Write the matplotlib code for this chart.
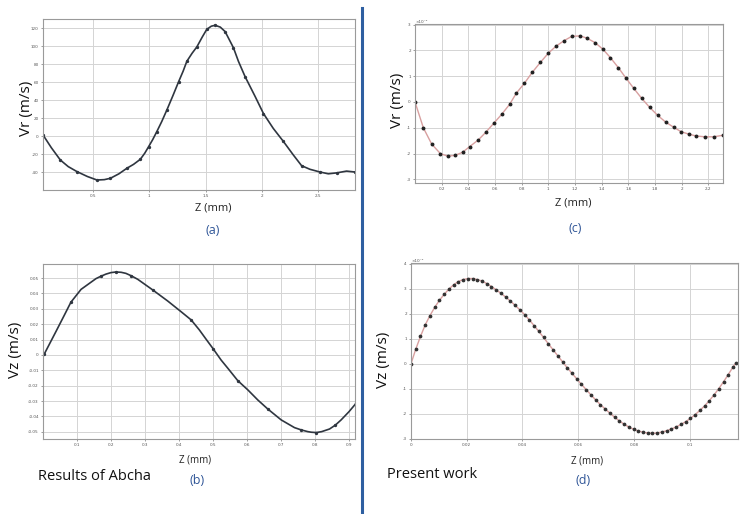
import matplotlib
matplotlib.use("Agg")
import matplotlib.pyplot as plt
from matplotlib.lines import Line2D

# ---------------- data ----------------
# (a) Vr, Results of Abcha
za = [0.057, 0.13, 0.21, 0.28, 0.358, 0.45, 0.535, 0.60, 0.654, 0.73, 0.80, 0.86, 0.92,
      0.96, 0.993, 1.03, 1.067, 1.11, 1.156, 1.21, 1.259, 1.30, 1.333, 1.38, 1.422,
      1.47, 1.51, 1.55, 1.584, 1.63, 1.673, 1.71, 1.747, 1.791, 1.85, 1.939, 2.013,
      2.10, 2.19, 2.278, 2.352, 2.426, 2.515, 2.589, 2.662, 2.751, 2.825]
vra = [1.0, -13.0, -26.7, -34.0, -39.6, -45.0, -48.9, -48.5, -47.0, -42.0, -35.9, -31.5,
       -25.9, -19.0, -12.0, -4.0, 5.0, 16.0, 29.0, 45.0, 60.0, 72.0, 83.0, 92.0, 99.0,
       110.0, 118.5, 122.0, 123.0, 121.0, 116.0, 107.0, 98.0, 83.0, 66.0, 44.0, 25.0,
       8.5, -6.0, -21.0, -33.0, -37.0, -40.0, -42.0, -41.0, -39.0, -40.0]
za_ticks = [0.5, 1, 1.5, 2, 2.5]
za_labels = ["0.5", "1", "1.5", "2", "2.5"]
vra_ticks = [-40, -20, 0, 20, 40, 60, 80, 100, 120]

# (c) Vr, present work (x1e-4)
zc = [0.0, 0.0625, 0.125, 0.19, 0.245, 0.30, 0.357, 0.41, 0.475, 0.53, 0.59, 0.65,
      0.71, 0.76, 0.82, 0.88, 0.94, 1.0, 1.06, 1.12, 1.175, 1.24, 1.29, 1.35, 1.41,
      1.465, 1.525, 1.58, 1.64, 1.70, 1.76, 1.82, 1.88, 1.94, 1.995, 2.055, 2.11,
      2.175, 2.24, 2.31]
vrc = [0.0, -1.0, -1.63, -2.0, -2.1, -2.07, -1.95, -1.73, -1.47, -1.18, -0.83, -0.48,
       -0.09, 0.34, 0.72, 1.15, 1.53, 1.89, 2.17, 2.38, 2.54, 2.56, 2.47, 2.30, 2.04,
       1.72, 1.33, 0.94, 0.53, 0.14, -0.21, -0.52, -0.78, -0.98, -1.15, -1.25, -1.32,
       -1.35, -1.35, -1.29]
zc_ticks = [0.2, 0.4, 0.6, 0.8, 1, 1.2, 1.4, 1.6, 1.8, 2, 2.2]
zc_labels = ["0.2", "0.4", "0.6", "0.8", "1", "1.2", "1.4", "1.6", "1.8", "2", "2.2"]
vrc_ticks = [-3, -2, -1, 0, 1, 2, 3]

# (b) Vz, Results of Abcha
zb = [0.004, 0.038, 0.063, 0.082, 0.112, 0.156, 0.17, 0.185, 0.20, 0.215, 0.23, 0.244,
      0.26, 0.279, 0.30, 0.323, 0.367, 0.406, 0.436, 0.46, 0.48, 0.501, 0.524, 0.544,
      0.573, 0.603, 0.632, 0.661, 0.701, 0.74, 0.76, 0.779, 0.79, 0.804, 0.82, 0.843,
      0.86, 0.877, 0.90, 0.921]
vzb = [0.0007, 0.0152, 0.026, 0.0343, 0.0427, 0.0497, 0.0512, 0.0526, 0.0536, 0.054,
       0.0538, 0.0531, 0.0515, 0.0492, 0.0459, 0.0423, 0.0351, 0.0282, 0.0228, 0.0163,
       0.0102, 0.0039, -0.0033, -0.0087, -0.0167, -0.0228, -0.0293, -0.0351, -0.0423,
       -0.0473, -0.0488, -0.0499, -0.0503, -0.0505, -0.0499, -0.0482, -0.0457,
       -0.0423, -0.0370, -0.0315]
zb_ticks = [0.1, 0.2, 0.3, 0.4, 0.5, 0.6, 0.7, 0.8, 0.9]
zb_labels = ["0.1", "0.2", "0.3", "0.4", "0.5", "0.6", "0.7", "0.8", "0.9"]
vzb_ticks = [-0.05, -0.04, -0.03, -0.02, -0.01, 0, 0.01, 0.02, 0.03, 0.04, 0.05]

# (d) Vz, present work (x1e-4)
zd = [0.0, 0.0017, 0.0034, 0.0051, 0.0068, 0.0085, 0.0102, 0.0119, 0.0136, 0.0153,
      0.0170, 0.0187, 0.0204, 0.0221, 0.0238, 0.0255, 0.0272, 0.0289, 0.0306, 0.0323,
      0.0340, 0.0357, 0.0374, 0.0391, 0.0408, 0.0425, 0.0442, 0.0459, 0.0476, 0.0493,
      0.0510, 0.0527, 0.0544, 0.0561, 0.0578, 0.0595, 0.0612, 0.0629, 0.0646, 0.0663,
      0.0680, 0.0697, 0.0714, 0.0731, 0.0748, 0.0765, 0.0782, 0.0799, 0.0816, 0.0833,
      0.0850, 0.0867, 0.0884, 0.0901, 0.0918, 0.0935, 0.0952, 0.0969, 0.0986, 0.1003,
      0.1020, 0.1037, 0.1054, 0.1071, 0.1088, 0.1105, 0.1122, 0.1139, 0.1156, 0.1166]
vzd = [0.00, 0.58, 1.09, 1.55, 1.92, 2.25, 2.53, 2.77, 2.98, 3.15,
       3.28, 3.36, 3.40, 3.40, 3.36, 3.30, 3.20, 3.08, 2.95, 2.81,
       2.66, 2.50, 2.33, 2.15, 1.96, 1.75, 1.52, 1.29, 1.05, 0.80,
       0.56, 0.32, 0.08, -0.16, -0.38, -0.60, -0.82, -1.03, -1.24, -1.44,
       -1.63, -1.80, -1.97, -2.13, -2.28, -2.41, -2.52, -2.61, -2.68, -2.73,
       -2.76, -2.77, -2.76, -2.72, -2.67, -2.60, -2.52, -2.42, -2.31, -2.18,
       -2.03, -1.86, -1.68, -1.47, -1.24, -0.99, -0.72, -0.43, -0.13, 0.03]
zd_ticks = [0, 0.02, 0.04, 0.06, 0.08, 0.1]
zd_labels = ["0", "0.02", "0.04", "0.06", "0.08", "0.1"]
vzd_ticks = [-3, -2, -1, 0, 1, 2, 3, 4]

# ---------------- figure ----------------
W, H = 741, 514
fig = plt.figure(figsize=(W / 100, H / 100), dpi=100)
fig.patch.set_facecolor("white")

FONT = ["Open Sans", "DejaVu Sans"]
BLUE = "#2f5597"


def px_axes(l, t, r, b):
    return fig.add_axes([l / W, 1 - b / H, (r - l) / W, (b - t) / H])


def style(ax, xt, xl, yt, xlim, ylim):
    ax.set_xlim(*xlim)
    ax.set_ylim(*ylim)
    ax.set_xticks(xt)
    ax.set_xticklabels(xl)
    ax.set_yticks(yt)
    ax.set_yticklabels([("%g" % v) for v in yt])
    ax.tick_params(labelsize=3, length=1.5, width=0.4, colors="#555555", pad=1.5)
    ax.grid(True, color="#d4d4d4", lw=0.7)
    for s in ax.spines.values():
        s.set_color("#9a9a9a")
        s.set_linewidth(0.8)
    ax.set_axisbelow(True)


# (a)
ax = px_axes(43, 19, 355, 190)
ax.plot(za, vra, color="#2f3640", lw=1.2, marker="o", ms=1.4, mfc="#2f3640",
        mec="#2f3640", markevery=2)
style(ax, za_ticks, za_labels, vra_ticks, (0.056, 2.826), (-60, 130))

# (c)
ax = px_axes(415, 24, 723, 183)
ax.plot(zc, vrc, color="#d8a0a0", lw=1.0, marker="o", ms=1.8, mfc="#222222", mec="#222222")
style(ax, zc_ticks, zc_labels, vrc_ticks, (0, 2.31), (-3.14, 3.02))
ax.text(0.0, 1.0, "×10⁻⁴", transform=ax.transAxes, fontsize=3, color="#555555",
        ha="left", va="bottom")

# (b)
ax = px_axes(43, 264, 355, 439)
ax.plot(zb, vzb, color="#2f3640", lw=1.2, marker="o", ms=1.4, mfc="#2f3640",
        mec="#2f3640", markevery=3)
style(ax, zb_ticks, zb_labels, vzb_ticks, (0, 0.918), (-0.0547, 0.0592))

# (d)
ax = px_axes(411, 263, 738, 439)
ax.plot(zd, vzd, color="#d8a0a0", lw=1.0, marker="o", ms=1.7, mfc="#333333", mec="#333333")
style(ax, zd_ticks, zd_labels, vzd_ticks, (0, 0.1174), (-2.99, 4.02))
ax.text(0.0, 1.0, "×10⁻⁴", transform=ax.transAxes, fontsize=3, color="#555555",
        ha="left", va="bottom")


def ftext(x, y, s, **kw):
    fig.text(x / W, 1 - y / H, s, family=FONT, **kw)


# axis titles
ftext(27, 108, "Vr (m/s)", fontsize=11, rotation=90, ha="center", va="center", color="#111111")
ftext(398, 100, "Vr (m/s)", fontsize=11, rotation=90, ha="center", va="center", color="#111111")
ftext(15, 350, "Vz (m/s)", fontsize=11, rotation=90, ha="center", va="center", color="#111111")
ftext(383, 360, "Vz (m/s)", fontsize=11, rotation=90, ha="center", va="center", color="#111111")

ftext(213, 208, "Z (mm)", fontsize=8, ha="center", va="center", color="#222222")
ftext(573, 203, "Z (mm)", fontsize=8, ha="center", va="center", color="#222222")
ftext(195, 460, "Z (mm)", fontsize=7, ha="center", va="center", color="#222222")
ftext(587, 461, "Z (mm)", fontsize=7, ha="center", va="center", color="#222222")

ftext(213, 230, "(a)", fontsize=9, ha="center", va="center", color=BLUE)
ftext(575, 228, "(c)", fontsize=9, ha="center", va="center", color=BLUE)
ftext(197, 480, "(b)", fontsize=9, ha="center", va="center", color=BLUE)
ftext(583, 480, "(d)", fontsize=9, ha="center", va="center", color=BLUE)

ftext(38, 477, "Results of Abcha", fontsize=10.5, ha="left", va="center", color="#111111")
ftext(387, 475, "Present work", fontsize=10.5, ha="left", va="center", color="#111111")

# separator line
fig.add_artist(Line2D([362 / W, 362 / W], [1 - 8 / H, 0], color="#2e5fa1", lw=2.2))

fig.savefig("out.png", dpi=100, facecolor="white")
